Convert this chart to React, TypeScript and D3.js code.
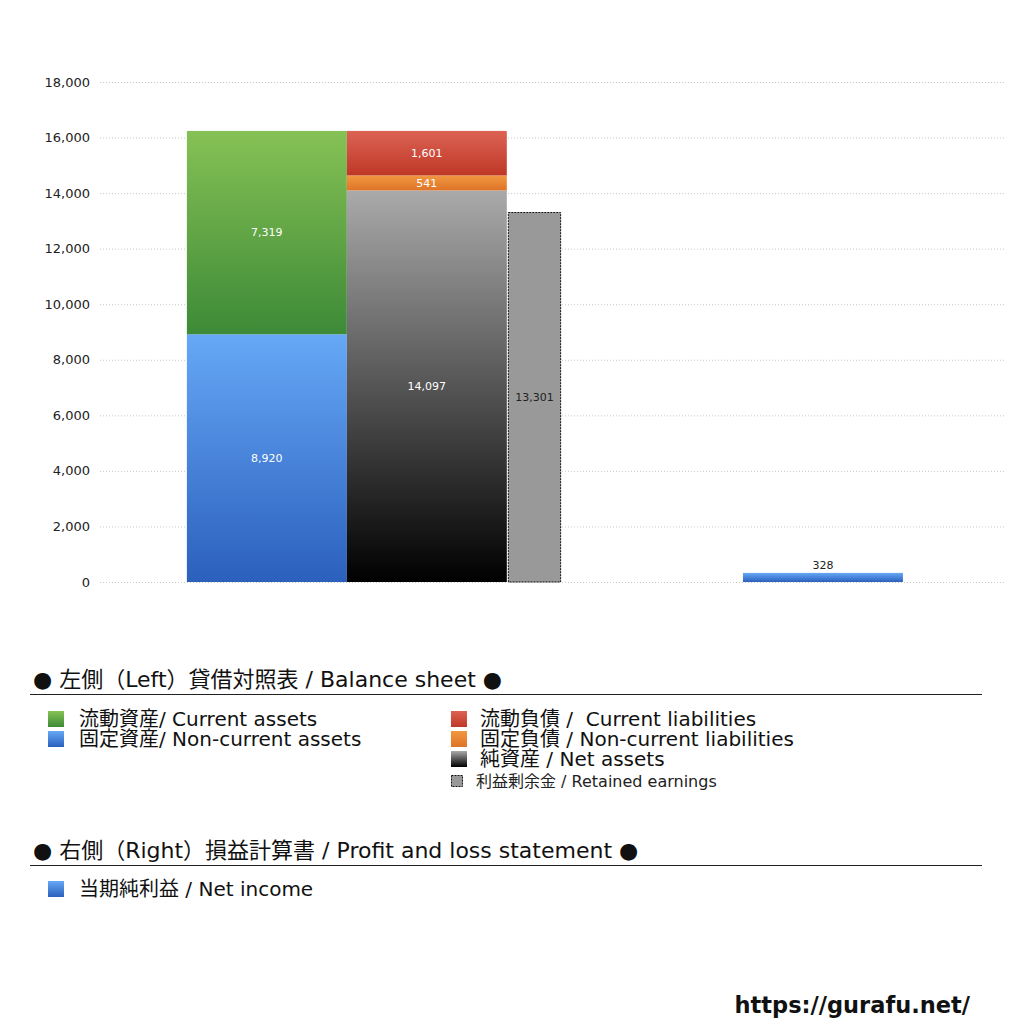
import * as d3 from 'd3';
import React from 'react';

// balance sheet (left) and P/L (right) values
const assetNames = ['固定資産/ Non-current assets', '流動資産/ Current assets'];
const assetValues = [8920, 7319];
const liabNames = ['純資産 / Net assets', '固定負債 / Non-current liabilities', '流動負債 /  Current liabilities'];
const liabValues = [14097, 541, 1601];
const retainedEarnings = 13301;
const netIncome = 328;
const groups = ['Left', 'Right'];
const yTicks = [0, 2000, 4000, 6000, 8000, 10000, 12000, 14000, 16000, 18000];

const FONT = '"DejaVu Sans", "Noto Sans CJK JP", sans-serif';

const grads: Record<string, [string, string]> = {
  green: ['#86c155', '#3d8a37'],
  blue: ['#66a8f6', '#2b60bd'],
  red: ['#dc6355', '#bf3726'],
  orange: ['#f19742', '#de7426'],
  black: ['#aaaaaa', '#000000'],
};
const assetColors = ['blue', 'green'];
const liabColors = ['black', 'orange', 'red'];

const App: React.FC = () => {
  const margin = { top: 82, left: 100, right: 18 };
  const width = 1024;
  const plotBottom = 582;

  const y = d3.scaleLinear().domain([0, 18000]).range([plotBottom, margin.top]);
  const x = d3
    .scaleBand<string>()
    .domain(groups)
    .range([margin.left, width - margin.right])
    .paddingInner(0.328)
    .paddingOuter(0.1155)
    .align(0.79);
  const half = x.bandwidth() / 2;
  const fmt = d3.format(',');

  // stack the segments
  let acc = 0;
  const assetSegs = assetValues.map((v, i) => {
    const s = { v, y0: acc, y1: acc + v, c: assetColors[i] };
    acc += v;
    return s;
  });
  acc = 0;
  const liabSegs = liabValues.map((v, i) => {
    const s = { v, y0: acc, y1: acc + v, c: liabColors[i] };
    acc += v;
    return s;
  });

  const lx = x('Left')!;
  const rx = x('Right')!;

  const legendLeft = [
    { name: assetNames[1], c: 'green' },
    { name: assetNames[0], c: 'blue' },
  ];
  const legendRight = [
    { name: liabNames[2], c: 'red' },
    { name: liabNames[1], c: 'orange' },
    { name: liabNames[0], c: 'black' },
  ];

  return (
    <svg width={1024} height={1024} style={{ position: 'absolute', left: 0, top: 0, background: '#fff' }} fontFamily={FONT}>
      <defs>
        {Object.entries(grads).map(([k, [a, b]]) => (
          <linearGradient key={k} id={`g-${k}`} x1="0" y1="0" x2="0" y2="1">
            <stop offset="0" stopColor={a} />
            <stop offset="1" stopColor={b} />
          </linearGradient>
        ))}
      </defs>

      {/* grid + y ticks */}
      {yTicks.map((t) => (
        <g key={t}>
          <line
            x1={margin.left}
            x2={width - margin.right}
            y1={y(t) + 0.5}
            y2={y(t) + 0.5}
            stroke="#c8c8c8"
            strokeDasharray="1,2"
          />
          <text x={90} y={y(t)} dy="0.35em" textAnchor="end" fontSize={13} fill="#222">
            {fmt(t)}
          </text>
        </g>
      ))}

      {/* assets */}
      {assetSegs.map((s, i) => (
        <g key={'a' + i}>
          <rect x={lx} width={half} y={y(s.y1)} height={y(s.y0) - y(s.y1)} fill={`url(#g-${s.c})`} />
          <text x={lx + half / 2} y={(y(s.y0) + y(s.y1)) / 2} dy="0.35em" textAnchor="middle" fontSize={11} fill="#fff">
            {fmt(s.v)}
          </text>
        </g>
      ))}

      {/* liabilities + net assets */}
      {liabSegs.map((s, i) => (
        <g key={'l' + i}>
          <rect x={lx + half} width={half} y={y(s.y1)} height={y(s.y0) - y(s.y1)} fill={`url(#g-${s.c})`} />
          <text
            x={lx + half * 1.5}
            y={(y(s.y0) + y(s.y1)) / 2}
            dy="0.35em"
            textAnchor="middle"
            fontSize={11}
            fill="#fff"
          >
            {fmt(s.v)}
          </text>
        </g>
      ))}

      {/* retained earnings */}
      <rect
        x={lx + half * 2 + 1.5}
        width={half / 3 - 1}
        y={y(retainedEarnings)}
        height={y(0) - y(retainedEarnings)}
        fill="#999"
        stroke="#111"
        strokeDasharray="2,1"
      />
      <text
        x={lx + half * 2 + 1 + half / 6}
        y={(y(0) + y(retainedEarnings)) / 2}
        dy="0.35em"
        textAnchor="middle"
        fontSize={11}
        fill="#222"
      >
        {fmt(retainedEarnings)}
      </text>

      {/* net income */}
      <rect x={rx + half / 2} width={half} y={y(netIncome)} height={y(0) - y(netIncome)} fill="url(#g-blue)" />
      <text x={rx + half} y={y(netIncome) - 4} textAnchor="middle" fontSize={11} fill="#222">
        {fmt(netIncome)}
      </text>

      {/* legend: balance sheet */}
      <text x={33} y={687} fontSize={22} fill="#111">
        ● 左側（Left）貸借対照表 / Balance sheet ●
      </text>
      <line x1={30} x2={982} y1={694.5} y2={694.5} stroke="#222" />
      {legendLeft.map((d, i) => (
        <g key={d.name}>
          <rect x={48} y={711 + i * 20} width={16} height={16} fill={`url(#g-${d.c})`} />
          <text x={79} y={719 + i * 20} dy="0.36em" fontSize={20} fill="#111">
            {d.name}
          </text>
        </g>
      ))}
      {legendRight.map((d, i) => (
        <g key={d.name}>
          <rect x={451} y={711 + i * 20} width={16} height={16} fill={`url(#g-${d.c})`} />
          <text x={480} y={719 + i * 20} dy="0.36em" fontSize={20} fill="#111" style={{ whiteSpace: 'pre' }}>
            {d.name}
          </text>
        </g>
      ))}
      <rect x={451.5} y={775.5} width={11} height={11} fill="#999" stroke="#111" strokeDasharray="2,1" />
      <text x={476} y={781} dy="0.36em" fontSize={16} fill="#222">
        利益剰余金 / Retained earnings
      </text>

      {/* legend: P/L */}
      <text x={33} y={858} fontSize={22} fill="#111">
        ● 右側（Right）損益計算書 / Profit and loss statement ●
      </text>
      <line x1={30} x2={982} y1={865.5} y2={865.5} stroke="#222" />
      <rect x={48} y={881} width={16} height={16} fill="url(#g-blue)" />
      <text x={79} y={889} dy="0.36em" fontSize={20} fill="#111">
        当期純利益 / Net income
      </text>

      <text x={970} y={1013} textAnchor="end" fontSize={22.5} fontWeight="bold" fill="#111">
        https://gurafu.net/
      </text>
    </svg>
  );
};

export default App;
